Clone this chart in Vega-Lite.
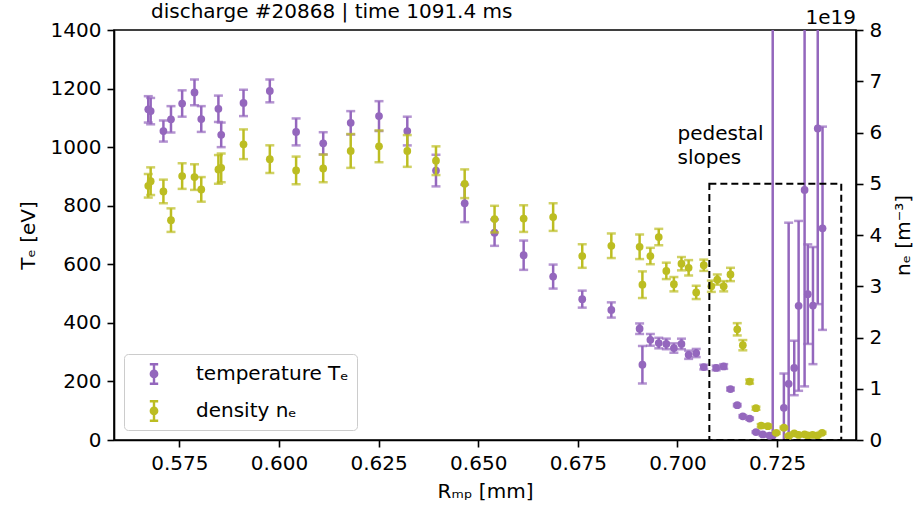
{
  "$schema": "https://vega.github.io/schema/vega-lite/v6.json",
  "width": 742,
  "height": 410,
  "autosize": "none",
  "padding": {"left": 114, "top": 30, "right": 65, "bottom": 78},
  "background": "white",
  "config": {
    "font": "DejaVu Sans",
    "view": {"stroke": "black", "strokeWidth": 1.6},
    "axis": {"grid": false, "domainColor": "black", "domainWidth": 1.6, "tickColor": "black", "tickWidth": 1.6, "tickSize": 7, "labelFontSize": 20, "labelColor": "black", "titleFontSize": 20, "titleFontWeight": "normal", "titleColor": "black", "labelPadding": 6},
    "legend": {"labelFontSize": 20, "labelColor": "black"}
  },
  "datasets": {
    "temp": [
      {"R": 0.5672, "T": 1129, "Terr": 45}, {"R": 0.5678, "T": 1123, "Terr": 45}, {"R": 0.5710, "T": 1055, "Terr": 36},
      {"R": 0.5729, "T": 1095, "Terr": 45}, {"R": 0.5757, "T": 1149, "Terr": 45}, {"R": 0.5788, "T": 1187, "Terr": 44},
      {"R": 0.5805, "T": 1096, "Terr": 44}, {"R": 0.5848, "T": 1131, "Terr": 45}, {"R": 0.5855, "T": 1042, "Terr": 42},
      {"R": 0.5911, "T": 1151, "Terr": 45}, {"R": 0.5977, "T": 1192, "Terr": 39}, {"R": 0.6043, "T": 1052, "Terr": 46},
      {"R": 0.6111, "T": 1013, "Terr": 38}, {"R": 0.6180, "T": 1083, "Terr": 40}, {"R": 0.6251, "T": 1106, "Terr": 51},
      {"R": 0.6322, "T": 1055, "Terr": 49}, {"R": 0.6394, "T": 920, "Terr": 54}, {"R": 0.6466, "T": 808, "Terr": 64},
      {"R": 0.6541, "T": 708, "Terr": 45}, {"R": 0.6614, "T": 631, "Terr": 50}, {"R": 0.6688, "T": 558, "Terr": 41},
      {"R": 0.6761, "T": 481, "Terr": 29}, {"R": 0.6834, "T": 444, "Terr": 26}, {"R": 0.6905, "T": 380, "Terr": 18},
      {"R": 0.6912, "T": 257, "Terr": 64}, {"R": 0.6932, "T": 342, "Terr": 20}, {"R": 0.6953, "T": 331, "Terr": 18},
      {"R": 0.6972, "T": 328, "Terr": 18}, {"R": 0.6991, "T": 314, "Terr": 16}, {"R": 0.7010, "T": 328, "Terr": 18},
      {"R": 0.7028, "T": 291, "Terr": 14}, {"R": 0.7047, "T": 297, "Terr": 14}, {"R": 0.7066, "T": 249, "Terr": 8},
      {"R": 0.7097, "T": 246, "Terr": 8}, {"R": 0.7116, "T": 251, "Terr": 8}, {"R": 0.7133, "T": 174, "Terr": 5},
      {"R": 0.7150, "T": 119, "Terr": 4}, {"R": 0.7164, "T": 81, "Terr": 4}, {"R": 0.7181, "T": 73, "Terr": 4},
      {"R": 0.7197, "T": 27, "Terr": 3}, {"R": 0.7214, "T": 19, "Terr": 3}, {"R": 0.7231, "T": 15, "Terr": 3},
      {"R": 0.7239, "T": 15, "Terr": 1500}, {"R": 0.7267, "T": 110, "Terr": 117}, {"R": 0.7279, "T": 192, "Terr": 550},
      {"R": 0.7293, "T": 246, "Terr": 93}, {"R": 0.7304, "T": 458, "Terr": 290}, {"R": 0.7319, "T": 854, "Terr": 671},
      {"R": 0.7327, "T": 498, "Terr": 170}, {"R": 0.7340, "T": 459, "Terr": 200}, {"R": 0.7352, "T": 1064, "Terr": 600},
      {"R": 0.7364, "T": 723, "Terr": 347}
    ],
    "dens": [
      {"R": 0.5672, "n": 4.96, "nerr": 0.23}, {"R": 0.5678, "n": 5.05, "nerr": 0.27}, {"R": 0.5710, "n": 4.85, "nerr": 0.23},
      {"R": 0.5729, "n": 4.29, "nerr": 0.23}, {"R": 0.5757, "n": 5.15, "nerr": 0.25}, {"R": 0.5788, "n": 5.13, "nerr": 0.25},
      {"R": 0.5805, "n": 4.89, "nerr": 0.24}, {"R": 0.5848, "n": 5.28, "nerr": 0.28}, {"R": 0.5855, "n": 5.31, "nerr": 0.28},
      {"R": 0.5911, "n": 5.77, "nerr": 0.29}, {"R": 0.5977, "n": 5.48, "nerr": 0.27}, {"R": 0.6043, "n": 5.26, "nerr": 0.27},
      {"R": 0.6111, "n": 5.30, "nerr": 0.27}, {"R": 0.6180, "n": 5.64, "nerr": 0.33}, {"R": 0.6251, "n": 5.73, "nerr": 0.31},
      {"R": 0.6322, "n": 5.64, "nerr": 0.31}, {"R": 0.6394, "n": 5.45, "nerr": 0.28}, {"R": 0.6466, "n": 5.00, "nerr": 0.28},
      {"R": 0.6541, "n": 4.31, "nerr": 0.26}, {"R": 0.6614, "n": 4.32, "nerr": 0.26}, {"R": 0.6688, "n": 4.35, "nerr": 0.27},
      {"R": 0.6761, "n": 3.59, "nerr": 0.23}, {"R": 0.6834, "n": 3.79, "nerr": 0.24}, {"R": 0.6905, "n": 3.77, "nerr": 0.24},
      {"R": 0.6912, "n": 3.03, "nerr": 0.26}, {"R": 0.6932, "n": 3.59, "nerr": 0.16}, {"R": 0.6953, "n": 3.96, "nerr": 0.16},
      {"R": 0.6972, "n": 3.30, "nerr": 0.16}, {"R": 0.6991, "n": 3.04, "nerr": 0.14}, {"R": 0.7010, "n": 3.44, "nerr": 0.13},
      {"R": 0.7028, "n": 3.36, "nerr": 0.15}, {"R": 0.7047, "n": 2.88, "nerr": 0.13}, {"R": 0.7066, "n": 3.41, "nerr": 0.11},
      {"R": 0.7085, "n": 3.00, "nerr": 0.11}, {"R": 0.7100, "n": 3.13, "nerr": 0.1}, {"R": 0.7116, "n": 3.00, "nerr": 0.1},
      {"R": 0.7133, "n": 3.23, "nerr": 0.13}, {"R": 0.7150, "n": 2.16, "nerr": 0.12}, {"R": 0.7164, "n": 1.85, "nerr": 0.1},
      {"R": 0.7181, "n": 1.14, "nerr": 0.04}, {"R": 0.7197, "n": 0.62, "nerr": 0.03}, {"R": 0.7210, "n": 0.28, "nerr": 0.03},
      {"R": 0.7227, "n": 0.27, "nerr": 0.03}, {"R": 0.7248, "n": 0.14, "nerr": 0.02}, {"R": 0.7267, "n": 0.24, "nerr": 0.02},
      {"R": 0.7279, "n": 0.08, "nerr": 0.02}, {"R": 0.7293, "n": 0.13, "nerr": 0.02}, {"R": 0.7304, "n": 0.10, "nerr": 0.02},
      {"R": 0.7319, "n": 0.11, "nerr": 0.02}, {"R": 0.7327, "n": 0.09, "nerr": 0.02}, {"R": 0.7339, "n": 0.10, "nerr": 0.02},
      {"R": 0.7351, "n": 0.09, "nerr": 0.02}, {"R": 0.7363, "n": 0.14, "nerr": 0.02}
    ]
  },
  "layer": [
    {
      "layer": [
        {
          "data": {"name": "temp"},
          "mark": {"type": "errorbar", "color": "#9467bd", "thickness": 2.5, "ticks": {"size": 9, "thickness": 2.5}, "clip": true},
          "encoding": {
            "x": {"field": "R", "type": "quantitative", "scale": {"domain": [0.5586, 0.7448], "nice": false, "zero": false},
                  "axis": {"title": "Rₘₚ [mm]", "values": [0.575, 0.6, 0.625, 0.65, 0.675, 0.7, 0.725], "format": ".3f", "titlePadding": 8}},
            "y": {"field": "T", "type": "quantitative", "scale": {"domain": [0, 1400], "nice": false},
                  "axis": {"orient": "left", "title": "Tₑ [eV]", "values": [0, 200, 400, 600, 800, 1000, 1200, 1400], "format": "d", "titlePadding": 12}},
            "yError": {"field": "Terr"}
          }
        },
        {
          "data": {"name": "temp"},
          "mark": {"type": "point", "filled": true, "size": 60, "opacity": 1, "clip": true},
          "encoding": {
            "x": {"field": "R", "type": "quantitative"},
            "y": {"field": "T", "type": "quantitative"},
            "color": {"datum": "temperature Tₑ", "type": "nominal",
                      "scale": {"domain": ["temperature Tₑ", "density nₑ"], "range": ["#9467bd", "#bcbd22"]},
                      "legend": {"title": null, "orient": "bottom-left", "offset": 10, "padding": 8,
                                 "strokeColor": "#cccccc", "fillColor": "rgba(255,255,255,0.8)", "cornerRadius": 4,
                                 "symbolType": "M-0.11,-1L0.11,-1L0.11,1L-0.11,1ZM-0.38,-1L0.38,-1L0.38,-0.78L-0.38,-0.78ZM-0.38,0.78L0.38,0.78L0.38,1L-0.38,1ZM0.4,0A0.4,0.4,0,1,1,-0.4,0A0.4,0.4,0,1,1,0.4,0Z",
                                 "symbolSize": 484, "symbolOffset": 10, "labelOffset": 30, "rowPadding": 14}}
          }
        },
        {
          "data": {"values": [{"a": 1}]},
          "mark": {"type": "text", "text": ["pedestal", "slopes"], "fontSize": 20, "align": "left", "baseline": "alphabetic", "lineHeight": 24, "color": "black"},
          "encoding": {"x": {"datum": 0.7}, "y": {"datum": 1024}}
        },
        {
          "data": {"values": [{"a": 1}]},
          "mark": {"type": "text", "text": "discharge #20868 | time 1091.4 ms", "fontSize": 20, "align": "left", "baseline": "alphabetic", "dx": 37, "dy": -12, "color": "black"},
          "encoding": {"x": {"datum": 0.5586}, "y": {"datum": 1400}}
        }
      ]
    },
    {
      "layer": [
        {
          "data": {"name": "dens"},
          "mark": {"type": "errorbar", "color": "#bcbd22", "thickness": 2.5, "ticks": {"size": 9, "thickness": 2.5}, "clip": true},
          "encoding": {
            "x": {"field": "R", "type": "quantitative"},
            "y": {"field": "n", "type": "quantitative", "scale": {"domain": [0, 8], "nice": false},
                  "axis": {"orient": "right", "title": "nₑ [m⁻³]", "values": [0, 1, 2, 3, 4, 5, 6, 7, 8], "titleAngle": 270, "titleBaseline": "top", "titlePadding": 12}},
            "yError": {"field": "nerr"}
          }
        },
        {
          "data": {"name": "dens"},
          "mark": {"type": "point", "filled": true, "size": 60, "opacity": 1, "clip": true},
          "encoding": {
            "x": {"field": "R", "type": "quantitative"},
            "y": {"field": "n", "type": "quantitative"},
            "color": {"datum": "density nₑ", "type": "nominal"}
          }
        },
        {
          "data": {"values": [{"a": 1}]},
          "mark": {"type": "rect", "fillOpacity": 0, "stroke": "black", "strokeWidth": 2, "strokeDash": [7, 4]},
          "encoding": {"x": {"datum": 0.708}, "x2": {"datum": 0.7411}, "y": {"datum": 0}, "y2": {"datum": 5}}
        },
        {
          "data": {"values": [{"a": 1}]},
          "mark": {"type": "text", "text": "1e19", "fontSize": 20, "align": "right", "baseline": "alphabetic", "dy": -6, "color": "black"},
          "encoding": {"x": {"datum": 0.7448}, "y": {"datum": 8}}
        }
      ]
    }
  ],
  "resolve": {"scale": {"y": "independent"}}
}
